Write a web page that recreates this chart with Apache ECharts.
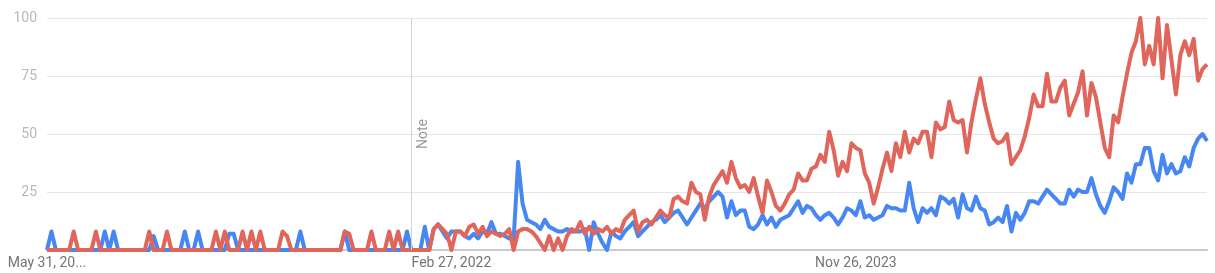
<!DOCTYPE html>
<html>
<head>
<meta charset="utf-8">
<script src="https://cdn.jsdelivr.net/npm/echarts@6/dist/echarts.min.js"></script>
<style>
html,body{margin:0;padding:0;background:#fff;}
#chart{width:1215px;height:273px;}
</style>
</head>
<body>
<div id="chart"></div>
<script>
// Weekly data starting on this date
const startDate = '2020-05-31';

const blueValues = [
0,8,0,0,0,0,0,0,0,0,
0,0,0,8,0,8,0,0,0,0,
0,0,0,0,6,0,0,0,0,0,
0,8,0,0,8,0,0,0,0,0,
0,7,7,0,0,0,0,0,0,0,
0,0,0,0,0,0,0,8,0,0,
0,0,0,0,0,0,0,8,0,0,
0,0,0,0,0,0,0,0,0,0,
0,8,0,0,0,10,0,9,11,8,
5,8,8,8,6,5,7,5,8,7,
12,7,7,6,5,5,38,20,13,12,
11,9,13,10,9,8,8,9,8,8,
8,9,0,12,7,3,0,8,6,5,
8,10,12,6,8,10,12,13,15,12,
14,16,17,14,11,14,17,20,18,21,
23,25,23,14,21,15,17,17,10,9,
11,15,11,14,10,13,14,15,18,21,
16,19,18,15,13,15,16,14,11,14,
18,17,15,21,14,15,13,14,15,19,
18,18,17,17,29,18,12,18,16,18,
15,23,22,20,22,14,24,18,17,23,
18,17,11,12,14,12,19,8,16,13,
16,21,21,20,23,26,24,22,20,20,
26,23,26,25,25,31,24,19,16,21,
27,25,22,33,29,37,37,44,44,34,
30,41,33,37,33,34,40,36,44,48,
50,47
];

const redValues = [
0,0,0,0,0,0,8,0,0,0,
0,8,0,0,0,0,0,0,0,0,
0,0,0,8,0,0,0,8,0,0,
0,0,0,0,0,0,0,0,8,0,
8,0,0,0,8,0,8,0,8,0,
0,0,0,8,6,0,0,0,0,0,
0,0,0,0,0,0,0,8,7,0,
0,0,0,8,0,0,0,8,0,8,
0,0,0,0,0,0,0,9,11,9,
7,0,8,8,6,10,11,7,10,6,
8,7,6,7,9,0,8,9,9,8,
6,3,0,6,0,5,0,6,9,8,
12,7,10,7,9,8,10,7,9,8,
13,15,17,8,12,13,11,14,17,15,
14,22,23,21,20,29,25,24,13,23,
28,31,34,29,38,31,27,28,25,31,
23,16,30,25,19,17,20,24,26,33,
30,30,35,36,41,38,51,43,32,38,
34,46,44,43,33,29,20,27,35,42,
34,46,40,51,42,48,46,51,51,40,
55,52,53,64,56,55,56,42,55,65,
74,63,55,48,46,47,50,37,40,43,
49,57,67,62,62,76,64,64,70,73,
58,63,68,77,58,72,66,55,44,40,
58,55,66,76,85,90,100,80,88,80,
100,74,97,82,67,84,90,84,91,73,
78,80
];

const tickIndices = [0, 91, 182];
const tickLabels = ['May 31, 20...', 'Feb 27, 2022', 'Nov 26, 2023'];
const yTicks = [25, 50, 75, 100];
const noteIndex = 82;
const noteText = 'Note';

// category (week) list
const categories = [];
(function(){
  const d0 = new Date(startDate + 'T00:00:00Z');
  for (let i = 0; i < blueValues.length; i++) {
    const d = new Date(d0.getTime() + i * 7 * 86400000);
    categories.push(d.toISOString().slice(0,10));
  }
})();

const chart = echarts.init(document.getElementById('chart'), null, {renderer:'canvas'});
const font = 'Roboto, "Noto Sans", Arial, sans-serif';
chart.setOption({
  animation: false,
  backgroundColor: '#ffffff',
  grid: {left: 47, right: 8, top: 18, bottom: 23, containLabel: false},
  xAxis: {
    type: 'category',
    data: categories,
    boundaryGap: false,
    axisLine: {show: true, lineStyle: {color: '#cacaca', width: 2}},
    axisTick: {show: false},
    splitLine: {show: false},
    axisLabel: {
      show: true,
      interval: function(idx){ return tickIndices.indexOf(idx) >= 0; },
      formatter: function(val, idx){ const k = tickIndices.indexOf(idx); return k >= 0 ? tickLabels[k] : ''; },
      color: '#757575',
      fontSize: 14,
      fontFamily: font,
      margin: 6
    }
  },
  yAxis: {
    type: 'value',
    min: 0,
    max: 100,
    interval: 25,
    axisLine: {show: false},
    axisTick: {show: false},
    splitLine: {show: true, lineStyle: {color: '#e6e6e6', width: 1}},
    axisLabel: {
      color: '#b8b8b8',
      fontSize: 14,
      fontFamily: font,
      margin: 10,
      formatter: function(v){ return yTicks.indexOf(v) >= 0 ? String(v) : ''; }
    }
  },
  series: [
    {
      type: 'line',
      name: 'Series A',
      data: blueValues,
      showSymbol: false,
      symbol: 'none',
      lineStyle: {color: '#4787f2', width: 4, join: 'round'},
      itemStyle: {color: '#4787f2'},
      z: 2,
      markLine: {
        silent: true,
        symbol: ['none', 'none'],
        lineStyle: {color: '#d2d2d2', type: 'solid', width: 1},
        label: {
          show: true,
          formatter: noteText,
          position: 'insideMiddleBottom',
          color: '#9a9a9a',
          fontSize: 14,
          fontFamily: font
        },
        data: [{xAxis: categories[noteIndex]}]
      }
    },
    {
      type: 'line',
      name: 'Series B',
      data: redValues,
      showSymbol: false,
      symbol: 'none',
      lineStyle: {color: '#e0665c', width: 4, join: 'round'},
      itemStyle: {color: '#e0665c'},
      z: 3
    }
  ]
});
</script>
</body>
</html>
